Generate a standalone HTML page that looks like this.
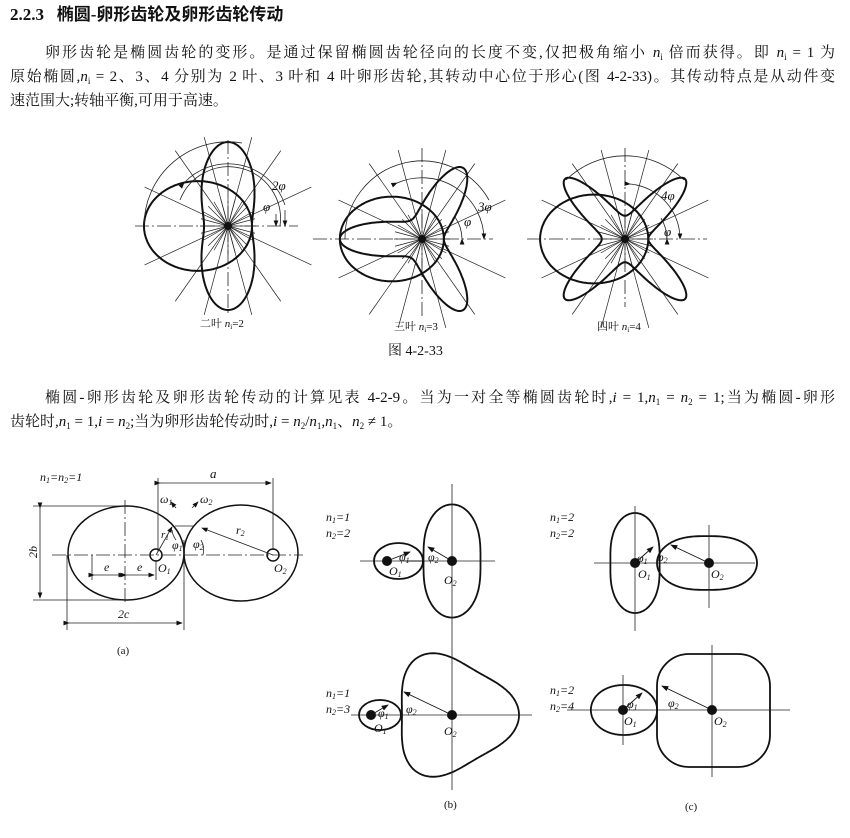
<!DOCTYPE html>
<html><head><meta charset="utf-8">
<style>
html,body{margin:0;padding:0;background:#fff;}
body{width:850px;height:838px;position:relative;overflow:hidden;font-family:"Liberation Serif","Noto Serif CJK SC","Noto Sans CJK SC",serif;color:#111;}
.ln{position:absolute;font-size:15px;line-height:18px;white-space:nowrap;}
.j{text-align:justify;text-align-last:justify;white-space:normal;}
sub{font-size:9px;vertical-align:-3px;line-height:0;}
i{font-style:italic;}
svg{position:absolute;left:0;top:0;}
svg text{font-family:"Liberation Serif","Noto Serif CJK SC",serif;fill:#111;}
</style></head><body>
<div class="ln" style="left:10px;top:6px;font-size:17px;font-weight:bold;font-family:'Liberation Serif','Noto Sans CJK SC',sans-serif;">2.2.3&nbsp;&nbsp;&nbsp;椭圆-卵形齿轮及卵形齿轮传动</div>
<div class="ln j" style="left:45px;top:44px;width:790px;">卵形齿轮是椭圆齿轮的变形。是通过保留椭圆齿轮径向的长度不变,仅把极角缩小 <i>n</i><sub>i</sub> 倍而获得。即 <i>n</i><sub>i</sub> = 1 为</div>
<div class="ln j" style="left:10px;top:68px;width:825px;">原始椭圆,<i>n</i><sub>i</sub> = 2、3、4 分别为 2 叶、3 叶和 4 叶卵形齿轮,其转动中心位于形心(图 4-2-33)。其传动特点是从动件变</div>
<div class="ln" style="left:10px;top:92px;">速范围大;转轴平衡,可用于高速。</div>
<div class="ln" style="left:388px;top:343px;font-size:14px;">图 4-2-33</div>
<div class="ln j" style="left:45px;top:389px;width:790px;">椭圆-卵形齿轮及卵形齿轮传动的计算见表 4-2-9。当为一对全等椭圆齿轮时,<i>i</i> = 1,<i>n</i><sub>1</sub> = <i>n</i><sub>2</sub> = 1;当为椭圆-卵形</div>
<div class="ln" style="left:10px;top:413px;">齿轮时,<i>n</i><sub>1</sub> = 1,<i>i</i> = <i>n</i><sub>2</sub>;当为卵形齿轮传动时,<i>i</i> = <i>n</i><sub>2</sub>/<i>n</i><sub>1</sub>,<i>n</i><sub>1</sub>、<i>n</i><sub>2</sub> ≠ 1。</div>

<svg width="850" height="838" viewBox="0 0 850 838" xmlns="http://www.w3.org/2000/svg">
<defs>
<marker id="ar" markerWidth="8" markerHeight="6" refX="7" refY="3" orient="auto"><path d="M0,0 L8,3 L0,6 z" fill="#111"/></marker>
</defs>
<g id="thin" stroke="#222" stroke-width="0.7" fill="none"></g>
<g id="thick" stroke="#111" stroke-width="2" fill="none"></g>

<g stroke="#222" stroke-width="0.8" stroke-dasharray="14 3 2 3" fill="none">
<line x1="135" y1="226" x2="298" y2="226"/><line x1="228" y1="140" x2="228" y2="315"/>
<line x1="313" y1="239" x2="493" y2="239"/><line x1="422" y1="148" x2="422" y2="318"/>
<line x1="527" y1="239" x2="707" y2="239"/><line x1="625" y1="148" x2="625" y2="307"/>
</g>
<g fill="#111"><circle cx="228" cy="226" r="4"/><circle cx="422" cy="239" r="4"/><circle cx="625" cy="239" r="4"/></g>
<g stroke="#222" stroke-width="0.8" fill="none">
<path d="M144,226 A84,84 0 0 1 242,143"/>
<path d="M184,183 A60,60 0 0 1 285,205" marker-start="url(#ar)"/>
<path d="M180,200 A52,52 0 0 1 280,226" />
<path d="M345,239 A77,77 0 0 1 489,200"/>
<path d="M397,183 A62,62 0 0 1 484,239" marker-start="url(#ar)" marker-end="url(#ar)"/>
<path d="M462,239 A40,40 0 0 0 455,217" marker-start="url(#ar)"/>
<path d="M566,180 A84,84 0 0 1 684,180"/>
<path d="M630,184 A55,55 0 0 1 680,239" marker-start="url(#ar)" marker-end="url(#ar)"/>
<path d="M667,239 A42,42 0 0 0 661,218" marker-start="url(#ar)"/>
<line x1="276" y1="214" x2="276" y2="226" marker-end="url(#ar)"/>
<line x1="285" y1="210" x2="285" y2="226" marker-end="url(#ar)"/>
</g>
<g font-style="italic" font-size="13">
<text x="272" y="190">2φ</text><text x="263" y="211">φ</text>
<text x="478" y="211">3φ</text><text x="464" y="226">φ</text>
<text x="661" y="200">4φ</text><text x="664" y="236">φ</text>
</g>
<g font-size="11" font-family="Liberation Sans,Noto Sans CJK SC,sans-serif">
<text x="200" y="327">二叶 <tspan font-style="italic">n</tspan><tspan font-size="7" dy="2">i</tspan><tspan dy="-2">=2</tspan></text>
<text x="394" y="330">三叶 <tspan font-style="italic">n</tspan><tspan font-size="7" dy="2">i</tspan><tspan dy="-2">=3</tspan></text>
<text x="597" y="330">四叶 <tspan font-style="italic">n</tspan><tspan font-size="7" dy="2">i</tspan><tspan dy="-2">=4</tspan></text>
</g>

<g stroke="#111" stroke-width="1.5" fill="none">
<ellipse cx="126" cy="553" rx="58" ry="47"/>
<ellipse cx="241" cy="553" rx="57" ry="48"/>
<circle cx="156" cy="555" r="6"/><circle cx="273" cy="555" r="6"/>
</g>
<g stroke="#222" stroke-width="0.8" fill="none">
<line x1="52" y1="555" x2="303" y2="555" stroke-dasharray="14 3 2 3"/>
<line x1="125" y1="500" x2="125" y2="605" stroke-dasharray="14 3 2 3"/>
<line x1="33" y1="506" x2="125" y2="506"/><line x1="33" y1="600" x2="125" y2="600"/>
<line x1="40" y1="508" x2="40" y2="598" marker-start="url(#ar)" marker-end="url(#ar)"/>
<line x1="67" y1="555" x2="67" y2="630"/><line x1="184" y1="540" x2="184" y2="630"/>
<line x1="69" y1="623" x2="182" y2="623" marker-start="url(#ar)" marker-end="url(#ar)"/>
<line x1="92" y1="555" x2="92" y2="580"/><line x1="156" y1="560" x2="156" y2="580"/>
<line x1="94" y1="575" x2="124" y2="575" marker-start="url(#ar)" marker-end="url(#ar)"/>
<line x1="126" y1="575" x2="154" y2="575" marker-start="url(#ar)" marker-end="url(#ar)"/>
<line x1="158" y1="478" x2="158" y2="552"/><line x1="273" y1="478" x2="273" y2="550"/>
<line x1="160" y1="483" x2="271" y2="483" marker-start="url(#ar)" marker-end="url(#ar)"/>
<line x1="273" y1="555" x2="202" y2="528" marker-end="url(#ar)"/>
<line x1="156" y1="555" x2="172" y2="527" marker-end="url(#ar)"/>
<line x1="175" y1="526" x2="194" y2="526"/>
<line x1="176" y1="508" x2="171" y2="502" marker-end="url(#ar)"/>
<line x1="192" y1="508" x2="198" y2="502" marker-end="url(#ar)"/>
<path d="M176,540 A20,20 0 0 1 172,530"/><path d="M203,555 A20,20 0 0 0 201,540"/>
</g>
<g font-style="italic" font-size="12">
<text x="40" y="481">n<tspan font-size="8" dy="2">1</tspan><tspan dy="-2">=n</tspan><tspan font-size="8" dy="2">2</tspan><tspan dy="-2">=1</tspan></text>
<text x="210" y="478" font-size="13">a</text>
<text x="160" y="503">ω<tspan font-size="8" dy="2">1</tspan></text>
<text x="200" y="503">ω<tspan font-size="8" dy="2">2</tspan></text>
<text x="161" y="538" font-size="11">r<tspan font-size="7" dy="2">1</tspan></text>
<text x="172" y="549">φ<tspan font-size="8" dy="2">1</tspan></text>
<text x="193" y="548">φ<tspan font-size="8" dy="2">2</tspan></text>
<text x="236" y="534">r<tspan font-size="8" dy="2">2</tspan></text>
<text x="158" y="572">O<tspan font-size="8" dy="2">1</tspan></text>
<text x="274" y="572">O<tspan font-size="8" dy="2">2</tspan></text>
<text x="104" y="571">e</text><text x="137" y="571">e</text>
<text x="118" y="618">2c</text>
<text transform="translate(37,558) rotate(-90)">2b</text>
</g>
<text x="117" y="654" font-size="11">(a)</text>

<g stroke="#222" stroke-width="0.8" fill="none">
<line x1="360" y1="561" x2="495" y2="561"/><line x1="452" y1="484" x2="452" y2="790"/>
<line x1="351" y1="715" x2="532" y2="715"/>
<line x1="594" y1="563" x2="755" y2="563"/><line x1="635" y1="506" x2="635" y2="631"/><line x1="709" y1="525" x2="709" y2="608"/>
<line x1="567" y1="710" x2="790" y2="710"/><line x1="623" y1="675" x2="623" y2="745"/><line x1="712" y1="645" x2="712" y2="777"/>
</g>
<g stroke="#111" stroke-width="1.8" fill="none">
<ellipse cx="398.5" cy="561" rx="24.5" ry="18"/>
<ellipse cx="380" cy="715" rx="21" ry="15"/>
<rect x="657" y="654" width="113" height="113" rx="32"/>
</g>
<g fill="#111"><circle cx="387" cy="561" r="5"/><circle cx="452" cy="561" r="5"/><circle cx="371" cy="715" r="5"/><circle cx="452" cy="715" r="5"/>
<circle cx="635" cy="563" r="5"/><circle cx="709" cy="563" r="5"/><circle cx="623" cy="710" r="5"/><circle cx="712" cy="710" r="5"/></g>
<g stroke="#111" stroke-width="0.9" fill="none">
<line x1="387" y1="561" x2="410" y2="552" marker-end="url(#ar)"/><line x1="452" y1="561" x2="428" y2="547" marker-end="url(#ar)"/><line x1="405" y1="561" x2="422" y2="561"/>
<line x1="371" y1="715" x2="388" y2="705" marker-end="url(#ar)"/><line x1="452" y1="715" x2="404" y2="692" marker-end="url(#ar)"/>
<line x1="635" y1="563" x2="653" y2="547" marker-end="url(#ar)"/><line x1="709" y1="563" x2="671" y2="545" marker-end="url(#ar)"/>
<line x1="623" y1="710" x2="642" y2="693" marker-end="url(#ar)"/><line x1="712" y1="710" x2="662" y2="686" marker-end="url(#ar)"/>
</g>
<g font-style="italic" font-size="12">
<text x="326" y="521">n<tspan font-size="8" dy="2">1</tspan><tspan dy="-2">=1</tspan></text>
<text x="326" y="537">n<tspan font-size="8" dy="2">2</tspan><tspan dy="-2">=2</tspan></text>
<text x="326" y="697">n<tspan font-size="8" dy="2">1</tspan><tspan dy="-2">=1</tspan></text>
<text x="326" y="713">n<tspan font-size="8" dy="2">2</tspan><tspan dy="-2">=3</tspan></text>
<text x="550" y="521">n<tspan font-size="8" dy="2">1</tspan><tspan dy="-2">=2</tspan></text>
<text x="550" y="537">n<tspan font-size="8" dy="2">2</tspan><tspan dy="-2">=2</tspan></text>
<text x="550" y="694">n<tspan font-size="8" dy="2">1</tspan><tspan dy="-2">=2</tspan></text>
<text x="550" y="710">n<tspan font-size="8" dy="2">2</tspan><tspan dy="-2">=4</tspan></text>
<text x="389" y="575">O<tspan font-size="8" dy="2">1</tspan></text><text x="444" y="584">O<tspan font-size="8" dy="2">2</tspan></text>
<text x="399" y="561">φ<tspan font-size="8" dy="2">1</tspan></text><text x="428" y="561">φ<tspan font-size="8" dy="2">2</tspan></text>
<text x="374" y="732">O<tspan font-size="8" dy="2">1</tspan></text><text x="444" y="735">O<tspan font-size="8" dy="2">2</tspan></text>
<text x="378" y="717">φ<tspan font-size="8" dy="2">1</tspan></text><text x="406" y="713">φ<tspan font-size="8" dy="2">2</tspan></text>
<text x="638" y="578">O<tspan font-size="8" dy="2">1</tspan></text><text x="711" y="578">O<tspan font-size="8" dy="2">2</tspan></text>
<text x="637" y="562">φ<tspan font-size="8" dy="2">1</tspan></text><text x="657" y="561">φ<tspan font-size="8" dy="2">2</tspan></text>
<text x="624" y="725">O<tspan font-size="8" dy="2">1</tspan></text><text x="714" y="725">O<tspan font-size="8" dy="2">2</tspan></text>
<text x="627" y="708">φ<tspan font-size="8" dy="2">1</tspan></text><text x="668" y="707">φ<tspan font-size="8" dy="2">2</tspan></text>
</g>
<text x="444" y="808" font-size="11">(b)</text>
<text x="685" y="810" font-size="11">(c)</text>
</svg>
<script>
(function(){
var NS="http://www.w3.org/2000/svg";
var thick=document.getElementById('thick'),thin=document.getElementById('thin');
function polar(cx,cy,f){var d="";for(var k=0;k<=360;k++){var t=k*Math.PI/180,r=f(t);d+=(k?"L":"M")+(cx+r*Math.cos(t)).toFixed(1)+","+(cy-r*Math.sin(t)).toFixed(1);}return d+"Z";}
function P(g,d,w){var p=document.createElementNS(NS,"path");p.setAttribute("d",d);if(w)p.setAttribute("stroke-width",w);g.appendChild(p);}
function L(g,x1,y1,x2,y2){var l=document.createElementNS(NS,"line");l.setAttribute("x1",x1);l.setAttribute("y1",y1);l.setAttribute("x2",x2);l.setAttribute("y2",y2);g.appendChild(l);}
var figs=[[228,226,37.3,0.556,2],[422,239,34.5,0.58,3],[625,239,36.5,0.57,4]];
figs.forEach(function(f){
 var cx=f[0],cy=f[1],p=f[2],e=f[3],n=f[4];
 P(thick,polar(cx,cy,function(t){return p/(1+e*Math.cos(t));}));
 P(thick,polar(cx,cy,function(t){return p/(1+e*Math.cos(n*t));}));
 [25,55,75,105,125,155].forEach(function(a){var t=a*Math.PI/180,R=92;L(thin,cx-R*Math.cos(t),cy+R*Math.sin(t),cx+R*Math.cos(t),cy-R*Math.sin(t));});
 for(var a=0;a<360;a+=15){var t=a*Math.PI/180;L(thin,cx,cy,cx+28*Math.cos(t),cy-28*Math.sin(t));}
});
P(thick,polar(452,561,function(t){return 37.9/(1+0.33*Math.cos(2*t));}),1.8);
P(thick,polar(452,715,function(t){return 57.3/(1-0.145*Math.cos(3*t));}),1.8);
P(thick,polar(635,563,function(t){return 33/(1+0.34*Math.cos(2*t));}),1.8);
P(thick,polar(707,563,function(t){return 35/(1-0.3*Math.cos(2*t));}),1.8);
P(thick,polar(624,710,function(t){return 28.5/(1-0.14*Math.cos(2*t));}),1.8);
})();
</script>
</body></html>
